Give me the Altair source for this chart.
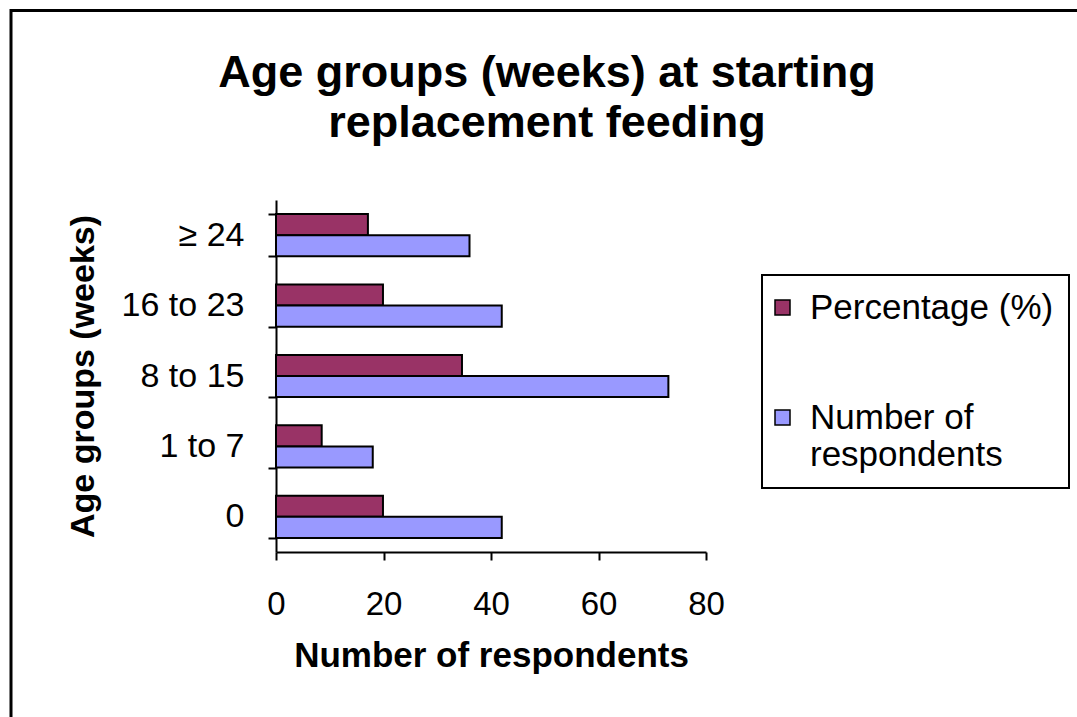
import altair as alt
import pandas as pd

# ---- data ----
categories = ["≥ 24", "16 to 23", "8 to 15", "1 to 7", "0"]
series = ["Percentage (%)", "Number of respondents"]
percentage = [17.1, 19.9, 34.6, 8.5, 19.9]
respondents = [36, 42, 73, 18, 42]
colors = ["#993366", "#9999FF"]
x_ticks = [0, 20, 40, 60, 80]

rows = []
for c, p, n in zip(categories, percentage, respondents):
    rows.append({"group": c, "series": series[0], "value": p})
    rows.append({"group": c, "series": series[1], "value": n})
df = pd.DataFrame(rows)

FONT = "Liberation Sans"

bars = alt.Chart(df).mark_bar(stroke="black", strokeWidth=2).encode(
    x=alt.X(
        "value:Q",
        scale=alt.Scale(domain=[0, 80], nice=False),
        axis=alt.Axis(
            values=x_ticks, title="Number of respondents", grid=False,
            tickSize=8, tickWidth=2, tickColor="black",
            domainColor="black", domainWidth=2,
            labelFont=FONT, labelFontSize=33, labelColor="black",
            labelPadding=28, labelFlush=False,
            titleFont=FONT, titleFontSize=35, titleFontWeight="bold",
            titleColor="black", titleY=114, titleBaseline="alphabetic",
        ),
    ),
    y=alt.Y(
        "group:N", sort=categories,
        scale=alt.Scale(paddingInner=0.4, paddingOuter=0.2),
        axis=alt.Axis(
            title="Age groups (weeks)", grid=False, tickBand="extent",
            tickSize=8, tickWidth=2, tickColor="black",
            domainColor="black", domainWidth=2,
            labelFont=FONT, labelFontSize=34, labelColor="black",
            labelPadding=24, labelAlign="right",
            titleFont=FONT, titleFontSize=34, titleFontWeight="bold",
            titleColor="black", titleAngle=270, titleX=-183, titleY=176,
            titleBaseline="alphabetic", titleAlign="center",
        ),
    ),
    yOffset=alt.YOffset("series:N", sort=series,
                        scale=alt.Scale(paddingInner=0, paddingOuter=0)),
    color=alt.Color(
        "series:N", sort=series,
        scale=alt.Scale(domain=series, range=colors),
        legend=alt.Legend(
            orient="none", legendX=486, legendY=75, title=None,
            strokeColor="black", padding=15, rowPadding=74,
            symbolType="square", symbolSize=225,
            symbolStrokeColor="black", symbolStrokeWidth=1.5,
            symbolOpacity=1, symbolOffset=-12,
            labelFont=FONT, labelFontSize=35, labelColor="black",
            labelOffset=10, labelLimit=400,
            labelExpr="datum.label == 'Number of respondents' ? ['Number of', 'respondents'] : datum.label",
        ),
    ),
)

frame = alt.Chart(pd.DataFrame({"frame": [0]})).mark_rect(
    fill="white", fillOpacity=0, stroke="black", strokeWidth=3
).encode(
    x=alt.value(-265), x2=alt.value(814), y=alt.value(-189.5), y2=alt.value(530)
)

chart = alt.layer(frame, bars).properties(
    width=430,
    height=352,
    autosize="none",
    padding={"left": 276, "top": 200, "right": 371, "bottom": 165},
    background="white",
    title=alt.Title(
        text=["Age groups (weeks) at starting", "replacement feeding"],
        font=FONT, fontSize=45, fontWeight="bold", color="black",
        anchor="middle", frame="group", dx=56, dy=137, offset=0, lineHeight=50,
    ),
).configure_view(stroke="transparent").configure_legend(strokeWidth=2)

chart.save("out.html", embed_options={"renderer": "svg", "actions": False})
